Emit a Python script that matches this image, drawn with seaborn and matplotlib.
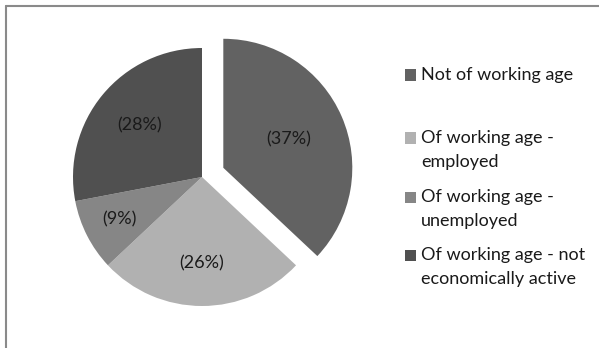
import numpy as np
import matplotlib
matplotlib.use("Agg")
import matplotlib.pyplot as plt
import seaborn as sns
from matplotlib.patches import Rectangle
from matplotlib.lines import Line2D

# Population breakdown by working-age status
categories = [
    "Not of working age",
    "Of working age -\nemployed",
    "Of working age -\nunemployed",
    "Of working age - not\neconomically active",
]
shares = [37, 26, 9, 28]
colors = ["#626262", "#b1b1b1", "#868686", "#505050"]

sns.set_theme(style="white")
plt.rcParams["font.family"] = ["Lato", "DejaVu Sans"]

W, H = 599, 348
fig = plt.figure(figsize=(W / 100, H / 100), dpi=100)
fig.patch.set_facecolor("white")

# pie axes: centre ~ (202, 177) px, radius ~129 px
R = 129.0
cx, cy = 202.0, 177.0
half = 1.3 * R
ax = fig.add_axes([(cx - half) / W, (H - cy - half) / H, 2 * half / W, 2 * half / H])

wedges, texts, autotexts = ax.pie(
    shares,
    colors=colors,
    startangle=90,
    counterclock=False,
    explode=[0.18, 0, 0, 0],
    autopct=lambda p: f"({p:.0f}%)",
    pctdistance=0.64,
    textprops=dict(fontsize=13, color="#1a1a1a"),
    wedgeprops=dict(linewidth=0),
)
ax.set_xlim(-1.3, 1.3)
ax.set_ylim(-1.3, 1.3)
ax.set_aspect("equal")
ax.axis("off")

# radial placement of the percentage labels inside each wedge
label_dist = [0.55, 0.67, 0.72, 0.63]
for w, t, d in zip(wedges, autotexts, label_dist):
    th = np.deg2rad((w.theta1 + w.theta2) / 2)
    x0, y0 = w.center
    t.set_position((x0 + d * w.r * np.cos(th), y0 + d * w.r * np.sin(th)))

# legend drawn as square swatches with top-aligned, wrapped labels
leg_rows = [75, 138, 197, 255]
for lab, col, yc in zip(categories, colors, leg_rows):
    fig.add_artist(Rectangle((405 / W, (H - yc - 5.5) / H), 11 / W, 11 / H,
                             transform=fig.transFigure, facecolor=col, edgecolor="none"))
    fig.text(421 / W, (H - (yc - 8)) / H, lab, ha="left", va="top", fontsize=13,
             color="#1a1a1a", linespacing=1.6)

# frame lines along the top and left edges
fig.add_artist(Line2D([5.5 / W, 1.0], [1 - 5.5 / H, 1 - 5.5 / H], transform=fig.transFigure,
                      color="#8a8a8a", lw=1.5))
fig.add_artist(Line2D([5.5 / W, 5.5 / W], [0, 1 - 5.5 / H], transform=fig.transFigure,
                      color="#8a8a8a", lw=1.5))

fig.savefig("out.png", dpi=100, facecolor="white")
